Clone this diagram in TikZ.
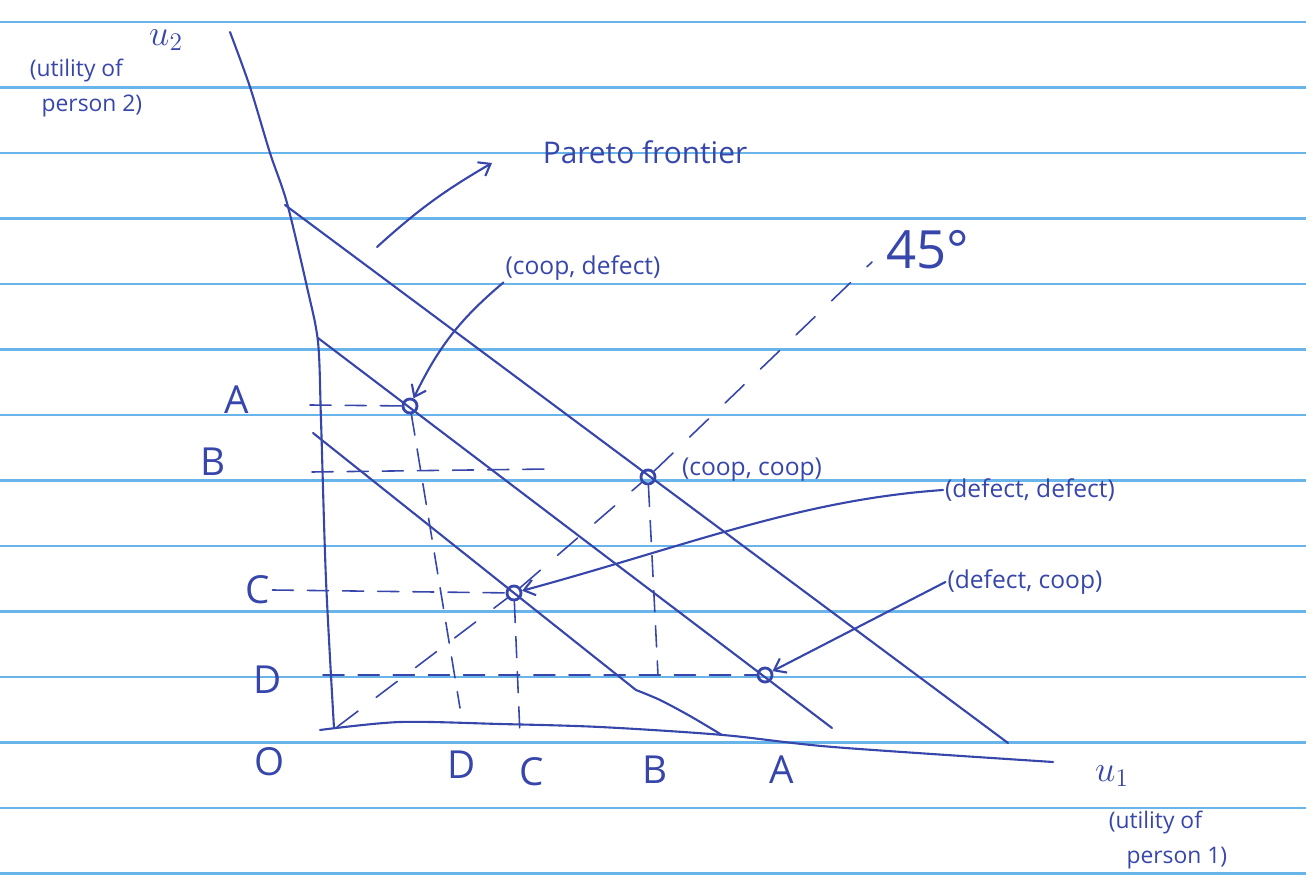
\documentclass[tikz,border=0pt]{standalone}
\usepackage{fontspec}
\setmainfont{Open Sans}
\usetikzlibrary{arrows.meta}
\definecolor{ink}{RGB}{55,70,170}
\definecolor{ruling}{RGB}{105,180,232}
\tikzset{
  pen/.style={ink, line width=1.2pt, line cap=round, line join=round},
  guide/.style={pen, line width=0.9pt, dash pattern=on 12pt off 8pt},
  diag/.style={pen, line width=0.9pt, dash pattern=on 15pt off 13pt},
  outcome/.style={circle, draw=ink, line width=1.6pt, inner sep=0pt, minimum size=8pt},
  tag/.style={text=ink, inner sep=1pt, font=\fontsize{14}{16}\selectfont},
  tick/.style={text=ink, inner sep=1pt, font=\fontsize{22}{24}\selectfont},
  >={Straight Barb[length=6pt,width=9pt]}
}
\begin{document}
\begin{tikzpicture}[x=0.02cm,y=-0.02cm]
\useasboundingbox (0,0) rectangle (1306,891);
% ruled paper
\foreach \k in {0,...,13}
  \draw[ruling, line width=1.3pt] (0,22+65.5*\k) -- (1306,22+65.5*\k);

% axes
\draw[pen] plot[smooth] coordinates {(230,32) (250,87) (270,153) (287,203) (307,287) (318,342) (321,420) (326,580) (334,728)};
\draw[pen] plot[smooth] coordinates {(320,730) (400,722) (500,724) (600,727) (723,735) (833,747) (1053,762)};
\node[text=ink, font=\fontsize{22}{24}\selectfont] (u2) at (166,40) {\(u_2\)};
\node[text=ink, align=left, font=\fontsize{13}{20}\selectfont] (u2txt) at (86,88) {(utility of\\ \ \ person 2)};
\node[text=ink, font=\fontsize{22}{24}\selectfont] (u1) at (1112,776) {\(u_1\)};
\node[text=ink, align=left, font=\fontsize{13}{20}\selectfont] (u1txt) at (1168,840) {(utility of\\ \ \ \ person 1)};

% outcomes
\node[outcome] (cd) at (410,406) {};
\node[outcome] (cc) at (648,477) {};
\node[outcome] (dd) at (514,593) {};
\node[outcome] (dc) at (765,675) {};

% payoff lines
\draw[pen] (285,205) -- (1008,743);
\draw[pen] (318,338) -- (832,728);
\draw[pen] plot[smooth] coordinates {(313,433) (514,593) (636,690)};
\draw[pen] plot[smooth] coordinates {(636,690) (660,700) (690,716) (722,735)};

% 45 degree line
\draw[diag] (337,727) -- (dd) -- (cc) -- (872,262);
\node[text=ink, font=\fontsize{30}{32}\selectfont] (deg) at (928,250) {45°};

% axis values
\node[tick] (yA) at (237,400) {A};
\node[tick] (yB) at (213,462) {B};
\node[tick] (yC) at (258,590) {C};
\node[tick] (yD) at (268,680) {D};
\node[tick] (o) at (270,762) {O};
\node[tick] (xD) at (462,765) {D};
\node[tick] (xC) at (532,772) {C};
\node[tick] (xB) at (655,770) {B};
\node[tick] (xA) at (782,770) {A};

% guides
\coordinate (gA) at (310,405);
\coordinate (gB) at (312,472);
\coordinate (gB2) at (550,469);
\coordinate (gD) at (323,675);
\coordinate (gD2) at (460,708);
\coordinate (gC2) at (520,735);
\coordinate (gB3) at (658,675);
\draw[guide] (gA) -- (cd);
\draw[guide] (gB) -- (gB2);
\draw[guide] (yC.east) -- (dd);
\draw[guide] (gD) -- (dc);
\draw[guide] (cd) -- (gD2);
\draw[guide] (dd) -- (gC2);
\draw[guide] (cc) -- (gB3);

% labels and pointers
\coordinate (pf) at (377,247);
\node[text=ink, inner sep=1pt, font=\fontsize{17}{19}\selectfont] (pareto) at (645,152) {Pareto frontier};
\draw[pen,->] (pf) to[bend left=6] (492,163);
\node[tag] (cdlab) at (583,268) {(coop, defect)};
\draw[pen,->] (cdlab.south west) to[bend right=12] (cd);
\node[tag] (cclab) at (752,470) {(coop, coop)};
\node[tag] (ddlab) at (1030,490) {(defect, defect)};
\draw[pen,->] (ddlab.west) .. controls (800,500) and (690,545) .. (dd);
\node[tag] (dclab) at (1025,582) {(defect, coop)};
\draw[pen,->] (dclab.west) -- (dc);
\end{tikzpicture}
\end{document}
